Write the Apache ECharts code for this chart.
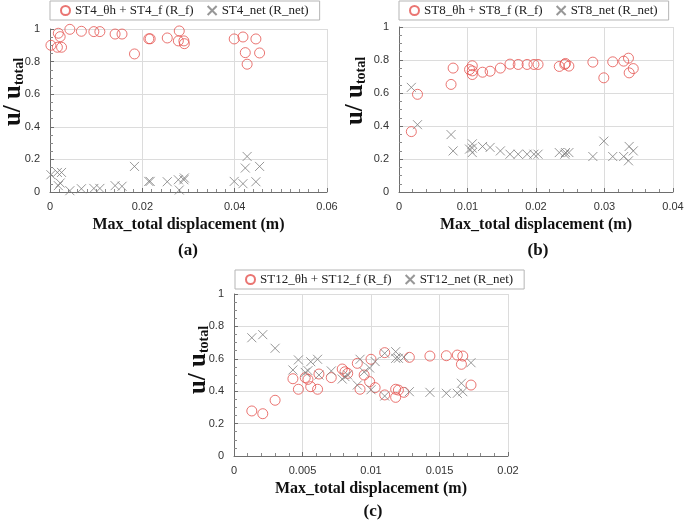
<!DOCTYPE html>
<html>
<head>
    <meta charset="utf-8">
    <script src="https://cdn.jsdelivr.net/npm/echarts@6/dist/echarts.min.js"></script>
    <title>u / u_total</title>
    <style>
        html, body { margin: 0; padding: 0; background: #fff; }
    </style>
</head>
<body>
    <div id="main" style="width: 685px;height:523px;"></div>
    <script type="text/javascript">
    // ST4 (a)
    var st4Disp = [0.0002, 0.0018, 0.0022, 0.0016, 0.0025, 0.0043, 0.0068, 0.0095, 0.0108, 0.0141, 0.0156, 0.0183, 0.0214,
        0.0217, 0.0254, 0.0280, 0.0278, 0.0290, 0.0291, 0.0399, 0.0418, 0.0423, 0.0427, 0.0446, 0.0454];
    var st4Rf = [0.90, 0.974, 0.953, 0.888, 0.888, 0.998, 0.986, 0.984, 0.984, 0.969, 0.969, 0.847, 0.94,
        0.94, 0.945, 0.988, 0.927, 0.927, 0.91, 0.939, 0.951, 0.855, 0.784, 0.939, 0.853];
    var st4Rnet = [0.106, 0.039, 0.055, 0.12, 0.12, 0.008, 0.02, 0.022, 0.022, 0.039, 0.035, 0.157, 0.065,
        0.065, 0.063, 0.012, 0.075, 0.075, 0.086, 0.065, 0.051, 0.147, 0.218, 0.063, 0.157];

    // ST8 (b)
    var st8Disp = [0.0018, 0.0027, 0.0076, 0.0079, 0.0103, 0.0107, 0.0107, 0.0107, 0.0122, 0.0133, 0.0148, 0.0162, 0.0174,
        0.0187, 0.0197, 0.0203, 0.0234, 0.0242, 0.0243, 0.0248, 0.0283, 0.0299, 0.0312, 0.0328, 0.0335, 0.0336, 0.0342];
    var st8Rf = [0.366, 0.592, 0.652, 0.751, 0.742, 0.765, 0.734, 0.712, 0.726, 0.732, 0.751, 0.775, 0.773,
        0.773, 0.773, 0.773, 0.761, 0.773, 0.779, 0.763, 0.787, 0.692, 0.789, 0.793, 0.811, 0.722, 0.748];
    var st8Rnet = [0.634, 0.408, 0.348, 0.249, 0.26, 0.239, 0.266, 0.292, 0.276, 0.27, 0.249, 0.229, 0.229,
        0.229, 0.229, 0.229, 0.239, 0.229, 0.239, 0.239, 0.215, 0.308, 0.215, 0.215, 0.189, 0.276, 0.249];

    // ST12 (c)
    var st12Disp = [0.0013, 0.0021, 0.0030, 0.0043, 0.0047, 0.0052, 0.0054, 0.0056, 0.0061, 0.0062, 0.0071, 0.0079, 0.0081,
        0.0083, 0.0090, 0.0092, 0.0095, 0.0099, 0.0100, 0.0103, 0.0110, 0.0110, 0.0118, 0.0120, 0.0118, 0.0124, 0.0128,
        0.0143, 0.0155, 0.0163, 0.0167, 0.0166, 0.0173];
    var st12Rf = [0.278, 0.261, 0.344, 0.477, 0.412, 0.484, 0.473, 0.428, 0.412, 0.506, 0.484, 0.537, 0.52,
        0.51, 0.572, 0.412, 0.5, 0.459, 0.597, 0.422, 0.377, 0.638, 0.412, 0.407, 0.362, 0.393, 0.609,
        0.617, 0.619, 0.623, 0.617, 0.566, 0.438];
    var st12Rnet = [0.73, 0.749, 0.665, 0.531, 0.593, 0.516, 0.527, 0.582, 0.597, 0.50, 0.525, 0.475, 0.49,
        0.50, 0.438, 0.597, 0.519, 0.543, 0.409, 0.583, 0.634, 0.37, 0.603, 0.603, 0.644, 0.61, 0.397,
        0.393, 0.387, 0.387, 0.397, 0.449, 0.576];

    var panels = [
        {tag: 'ST4', disp: st4Disp, rf: st4Rf, rnet: st4Rnet, xMax: 0.06, xStep: 0.02, xMinor: 10,
            grid: {left: 50, top: 29, width: 277, height: 163}, legend: {left: 50, top: 1},
            label: '(a)', labelPos: [188, 251], yTitlePos: [14, 92]},
        {tag: 'ST8', disp: st8Disp, rf: st8Rf, rnet: st8Rnet, xMax: 0.04, xStep: 0.01, xMinor: 5,
            grid: {left: 399, top: 27, width: 274, height: 165}, legend: {left: 399, top: 1},
            label: '(b)', labelPos: [538, 251], yTitlePos: [356, 91]},
        {tag: 'ST12', disp: st12Disp, rf: st12Rf, rnet: st12Rnet, xMax: 0.02, xStep: 0.005, xMinor: 5,
            grid: {left: 234, top: 294, width: 274, height: 162}, legend: {left: 235, top: 270},
            label: '(c)', labelPos: [373, 512], yTitlePos: [199, 360]}
    ];

    var serif = '"Liberation Serif", "DejaVu Serif", serif';
    var sans = '"Liberation Sans", Arial, sans-serif';
    var red = '#e5534f';
    var grey = '#7d7d7d';
    var crossPath = 'path://M0,0L10,10M10,0L0,10';

    var pairs = function(xs, ys){
        var out = [];
        for(var i=0; i<xs.length; i++){
            out.push([xs[i], ys[i]]);
        }
        return out;
    };

    var grids = [], xAxes = [], yAxes = [], series = [], legends = [], graphics = [];
    panels.forEach(function(p, k){
        var g = p.grid;
        g.outerBoundsMode = 'none';
        g.containLabel = false;
        grids.push(g);
        xAxes.push({
            type: 'value', gridIndex: k, min: 0, max: p.xMax, interval: p.xStep,
            name: 'Max_total displacement (m)', nameLocation: 'middle', nameGap: 25,
            nameTextStyle: {fontFamily: serif, fontWeight: 'bold', fontSize: 16, color: '#111'},
            axisLine: {lineStyle: {color: '#6e6e6e'}},
            axisTick: {show: true, inside: true, length: 4, lineStyle: {color: '#6e6e6e'}},
            minorTick: {show: true, splitNumber: p.xMinor, length: 3, lineStyle: {color: '#8a8a8a'}},
            axisLabel: {fontFamily: sans, fontSize: 11, color: '#333', margin: 9},
            splitLine: {show: true, lineStyle: {color: '#dcdcdc'}}
        });
        yAxes.push({
            type: 'value', gridIndex: k, min: 0, max: 1, interval: 0.2,
            axisLine: {show: true, lineStyle: {color: '#6e6e6e'}},
            axisTick: {show: true, inside: true, length: 4, lineStyle: {color: '#6e6e6e'}},
            minorTick: {show: true, splitNumber: 4, length: 3, lineStyle: {color: '#8a8a8a'}},
            axisLabel: {fontFamily: sans, fontSize: 11, color: '#333', margin: 10},
            splitLine: {show: true, lineStyle: {color: '#dcdcdc'}}
        });
        var nameF = p.tag + '_θh + ' + p.tag + '_f (R_f)';
        var nameN = p.tag + '_net (R_net)';
        series.push({
            name: nameF, type: 'scatter', xAxisIndex: k, yAxisIndex: k,
            symbol: 'circle', symbolSize: 10,
            itemStyle: {color: 'rgba(0,0,0,0)', borderColor: red, borderWidth: 1},
            data: pairs(p.disp, p.rf)
        });
        series.push({
            name: nameN, type: 'scatter', xAxisIndex: k, yAxisIndex: k,
            symbol: crossPath, symbolSize: 9,
            itemStyle: {color: 'rgba(0,0,0,0)', borderColor: grey, borderWidth: 1},
            data: pairs(p.disp, p.rnet)
        });
        legends.push({
            data: [nameF, nameN], left: p.legend.left, top: p.legend.top,
            orient: 'horizontal', itemWidth: 9, itemHeight: 9, itemGap: 13,
            padding: [3, 11, 3, 10], borderColor: '#b5b5b5', borderWidth: 1,
            textStyle: {fontFamily: serif, fontSize: 13, color: '#222'},
            selectedMode: false
        });
        graphics.push({
            type: 'text', x: p.labelPos[0], y: p.labelPos[1],
            style: {text: p.label, font: 'bold 17px ' + serif, fill: '#111', textAlign: 'center', textVerticalAlign: 'middle'}
        });
        // rotated y title: u/ u_total
        graphics.push({
            type: 'text', x: p.yTitlePos[0], y: p.yTitlePos[1], rotation: Math.PI / 2,
            style: {
                text: '{m|u/ u}{s|total}', align: 'center', verticalAlign: 'middle',
                rich: {
                    m: {fontFamily: serif, fontWeight: 'bold', fontSize: 25, fill: '#111', color: '#111'},
                    s: {fontFamily: serif, fontWeight: 'bold', fontSize: 14, fill: '#111', color: '#111', verticalAlign: 'bottom', padding: [8, 0, 0, 0]}
                }
            }
        });
    });

    var myChart = echarts.init(document.getElementById('main'));
    myChart.setOption({
        animation: false,
        backgroundColor: '#fff',
        grid: grids,
        xAxis: xAxes,
        yAxis: yAxes,
        legend: legends,
        series: series,
        graphic: graphics
    });
    </script>
</body>
</html>
